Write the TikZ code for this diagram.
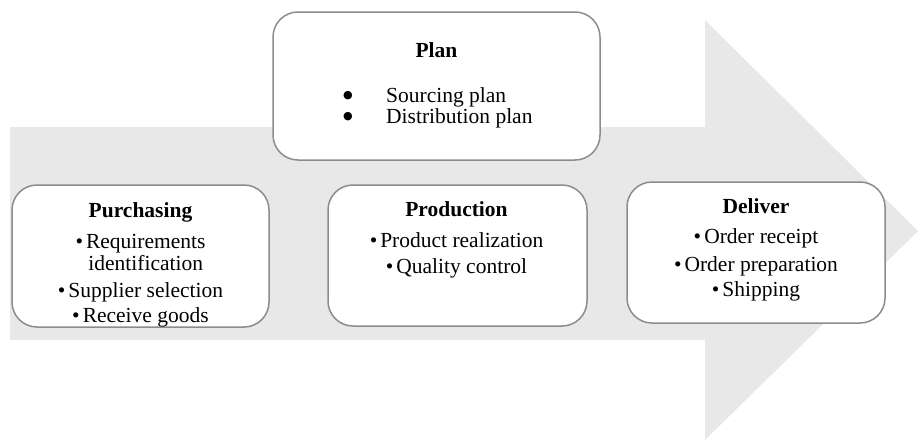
\documentclass[tikz,border=0pt]{standalone}
\usepackage{fontspec}
\setmainfont{Liberation Serif}
\newfontfamily\dejavu{DejaVu Sans}
\definecolor{arrowgray}{RGB}{232,232,232}
\definecolor{boxline}{RGB}{140,140,140}
\newcommand{\bigbul}{\raisebox{4pt}{\dejavu\fontsize{11}{11}\selectfont ●}}
\begin{document}
\begin{tikzpicture}[x=1pt,y=-1pt,
  stage/.style={draw=boxline, line width=1.5pt, fill=white, rounded corners=25pt, inner sep=0pt},
  txt/.style={inner sep=0pt, font=\fontsize{21.5}{22}\selectfont, align=center, text=black}]
\useasboundingbox (0,0) rectangle (920,442);
\fill[arrowgray] (10,127) -- (705,127) -- (705,20) -- (918,231) -- (705,440) -- (705,340) -- (10,340) -- cycle;

\node[stage, minimum width=327pt, minimum height=148pt] (plan) at (436.5,86) {};
\node[stage, minimum width=257pt, minimum height=142pt] (purch) at (140.5,256) {};
\node[stage, minimum width=259pt, minimum height=141pt] (prod) at (457.5,255.5) {};
\node[stage, minimum width=258pt, minimum height=141pt] (deliv) at (756,252.5) {};

\node[txt, anchor=north] (plantitle) at (436.5,42.5) {\textbf{Plan}};
\node[txt, anchor=north west, align=left] (planlist) at (343,87.5)
  {\makebox[43pt][l]{\bigbul}Sourcing plan\\[-1pt]\makebox[43pt][l]{\bigbul}Distribution plan};

\node[txt, anchor=north] (purchtxt) at (140.5,202.5)
  {\textbf{Purchasing}\\[9pt]
   •\hspace{3pt}Requirements\\
   \hphantom{•\hspace{3pt}}identification\\[5pt]
   •\hspace{3pt}Supplier selection\\[3pt]
   •\hspace{3pt}Receive goods};

\node[txt, anchor=north] (prodtxt) at (456.5,201.5)
  {\textbf{Production}\\[9pt]
   •\hspace{3pt}Product realization\\[4pt]
   •\hspace{3pt}Quality control};

\node[txt, anchor=north] (delivtxt) at (756,198.5)
  {\textbf{Deliver}\\[8pt]
   •\hspace{3pt}Order receipt\\[6pt]
   •\hspace{3pt}Order preparation\\[3pt]
   •\hspace{3pt}Shipping};
\end{tikzpicture}
\end{document}
